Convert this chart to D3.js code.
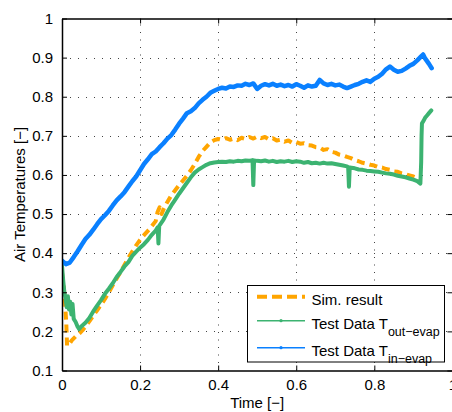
<!DOCTYPE html>
<html>
<head>
<meta charset="utf-8">
<script src="https://cdn.jsdelivr.net/npm/d3@7"></script>
<style>
  html, body { margin: 0; padding: 0; background: #fff; }
  svg { display: block; }
  text { font-family: "Liberation Sans", Arial, Helvetica, sans-serif; fill: #000; }
</style>
</head>
<body>
<svg id="chart" width="452" height="412"></svg>
<script>
// Simulation result (dimensionless time, temperature)
const simT = [0.000,0.004,0.008,0.011,0.013,0.018,0.025,0.035,0.046,0.055,0.060,0.070,0.080,0.090,0.100,0.110,0.120,0.130,0.140,0.150,0.160,0.170,0.180,0.190,0.200,0.210,0.220,0.230,0.240,0.245,0.250,0.255,0.260,0.270,0.280,0.290,0.300,0.310,0.320,0.330,0.340,0.350,0.360,0.370,0.380,0.390,0.400,0.410,0.420,0.430,0.440,0.450,0.460,0.470,0.480,0.490,0.500,0.510,0.520,0.530,0.540,0.550,0.560,0.570,0.580,0.590,0.600,0.610,0.620,0.630,0.640,0.650,0.660,0.670,0.680,0.690,0.700,0.710,0.720,0.730,0.740,0.750,0.760,0.770,0.780,0.790,0.800,0.810,0.820,0.830,0.840,0.850,0.860,0.870,0.880,0.890,0.900,0.910,0.920];
const simV = [0.350,0.320,0.270,0.220,0.163,0.166,0.177,0.187,0.196,0.206,0.212,0.226,0.240,0.254,0.268,0.283,0.300,0.318,0.335,0.352,0.370,0.388,0.404,0.420,0.434,0.446,0.457,0.469,0.482,0.506,0.517,0.500,0.512,0.531,0.548,0.561,0.574,0.586,0.598,0.612,0.628,0.646,0.661,0.672,0.683,0.689,0.692,0.690,0.694,0.690,0.693,0.689,0.695,0.692,0.697,0.693,0.698,0.694,0.697,0.691,0.694,0.688,0.690,0.685,0.688,0.682,0.684,0.680,0.681,0.676,0.675,0.671,0.670,0.664,0.666,0.659,0.657,0.652,0.650,0.646,0.643,0.638,0.635,0.631,0.629,0.626,0.624,0.620,0.619,0.615,0.613,0.609,0.608,0.604,0.602,0.599,0.596,0.592,0.588];

// Measured evaporator outlet air temperature
const outT = [0.000,0.003,0.006,0.009,0.012,0.015,0.018,0.021,0.024,0.027,0.030,0.035,0.040,0.044,0.050,0.060,0.070,0.080,0.090,0.100,0.110,0.120,0.130,0.140,0.150,0.160,0.170,0.180,0.190,0.200,0.210,0.220,0.230,0.240,0.245,0.247,0.249,0.260,0.270,0.280,0.290,0.300,0.310,0.320,0.330,0.340,0.350,0.360,0.370,0.380,0.390,0.400,0.410,0.420,0.430,0.440,0.450,0.460,0.470,0.480,0.488,0.490,0.492,0.500,0.510,0.520,0.530,0.540,0.550,0.560,0.570,0.580,0.590,0.600,0.610,0.620,0.630,0.640,0.650,0.660,0.670,0.680,0.690,0.700,0.710,0.720,0.730,0.733,0.735,0.737,0.750,0.760,0.770,0.780,0.790,0.800,0.810,0.820,0.830,0.840,0.850,0.860,0.870,0.880,0.890,0.900,0.910,0.918,0.920,0.921,0.922,0.926,0.930,0.935,0.940,0.946];
const outV = [0.368,0.331,0.300,0.285,0.262,0.290,0.256,0.276,0.243,0.270,0.232,0.224,0.212,0.206,0.213,0.222,0.234,0.251,0.266,0.280,0.296,0.309,0.323,0.339,0.352,0.366,0.377,0.393,0.404,0.414,0.423,0.434,0.447,0.458,0.466,0.425,0.470,0.486,0.505,0.522,0.537,0.552,0.566,0.580,0.594,0.606,0.614,0.620,0.626,0.630,0.632,0.633,0.634,0.633,0.635,0.634,0.636,0.635,0.637,0.636,0.638,0.574,0.637,0.636,0.635,0.637,0.634,0.636,0.633,0.635,0.634,0.636,0.633,0.635,0.634,0.631,0.633,0.630,0.631,0.629,0.631,0.629,0.630,0.628,0.626,0.624,0.622,0.620,0.570,0.619,0.617,0.614,0.613,0.611,0.610,0.609,0.608,0.606,0.604,0.603,0.601,0.598,0.596,0.594,0.591,0.588,0.584,0.578,0.632,0.700,0.732,0.738,0.746,0.752,0.758,0.765];

// Measured evaporator inlet air temperature
const inT = [0.000,0.010,0.020,0.030,0.040,0.050,0.060,0.070,0.080,0.090,0.100,0.110,0.120,0.130,0.140,0.150,0.160,0.170,0.180,0.190,0.200,0.210,0.220,0.230,0.240,0.250,0.260,0.270,0.280,0.290,0.300,0.310,0.320,0.330,0.340,0.350,0.360,0.370,0.380,0.390,0.400,0.410,0.420,0.430,0.440,0.450,0.460,0.470,0.480,0.490,0.500,0.510,0.520,0.530,0.540,0.550,0.560,0.570,0.580,0.590,0.600,0.610,0.620,0.630,0.640,0.650,0.660,0.670,0.680,0.690,0.700,0.710,0.720,0.730,0.740,0.750,0.760,0.770,0.780,0.790,0.800,0.810,0.820,0.830,0.840,0.850,0.860,0.870,0.880,0.890,0.900,0.910,0.920,0.925,0.930,0.940,0.947];
const inV = [0.381,0.372,0.376,0.390,0.405,0.421,0.436,0.447,0.460,0.474,0.487,0.497,0.508,0.522,0.535,0.545,0.556,0.570,0.584,0.596,0.612,0.628,0.640,0.653,0.660,0.671,0.681,0.693,0.702,0.716,0.731,0.744,0.758,0.763,0.771,0.783,0.792,0.800,0.810,0.815,0.820,0.823,0.821,0.826,0.825,0.829,0.828,0.833,0.830,0.834,0.820,0.828,0.832,0.829,0.833,0.828,0.831,0.827,0.830,0.826,0.832,0.828,0.823,0.829,0.826,0.828,0.843,0.834,0.830,0.833,0.829,0.831,0.826,0.822,0.826,0.830,0.833,0.838,0.842,0.838,0.846,0.851,0.859,0.870,0.877,0.869,0.864,0.866,0.872,0.879,0.884,0.893,0.903,0.908,0.898,0.884,0.873];

const xTicks = [0, 0.2, 0.4, 0.6, 0.8, 1];
const yTicks = [0.1, 0.2, 0.3, 0.4, 0.5, 0.6, 0.7, 0.8, 0.9, 1];
const legendLabels = ["Sim. result", "Test Data T", "Test Data T"];
const legendSubs = ["", "out\u2212evap", "in\u2212evap"];
const colors = { sim: "#FFA500", out: "#3CB371", in: "#0A80FF" };

const svg = d3.select("#chart");
const mLeft = 62, mRight = 452.4, mTop = 18.5, mBottom = 370.5;

const x = d3.scaleLinear().domain([0, 1]).range([mLeft, mRight]);
const y = d3.scaleLinear().domain([0.1, 1]).range([mBottom, mTop]);

// clip region for the data
svg.append("defs").append("clipPath").attr("id", "plotClip")
  .append("rect").attr("x", mLeft).attr("y", mTop)
  .attr("width", mRight - mLeft).attr("height", mBottom - mTop);

// dotted grid
const grid = svg.append("g");
grid.selectAll("line.gx").data(xTicks.filter(d => d > 0 && d < 1)).join("line")
  .attr("x1", d => Math.round(x(d)) + 0.5).attr("x2", d => Math.round(x(d)) + 0.5)
  .attr("y1", mBottom).attr("y2", mTop)
  .attr("stroke", "#444").attr("stroke-width", 1).attr("stroke-dasharray", "1,6.5");
grid.selectAll("line.gy").data(yTicks.filter(d => d > 0.1 && d < 1)).join("line")
  .attr("y1", d => Math.round(y(d)) + 0.5).attr("y2", d => Math.round(y(d)) + 0.5)
  .attr("x1", mLeft).attr("x2", mRight)
  .attr("stroke", "#444").attr("stroke-width", 1).attr("stroke-dasharray", "1,7");

// data series
const line = d3.line().x(d => x(d[0])).y(d => y(d[1]));
const plot = svg.append("g").attr("clip-path", "url(#plotClip)");
const zip = (a, b) => a.map((t, i) => [t, b[i]]);

plot.append("path").datum(zip(simT, simV))
  .attr("d", line).attr("fill", "none").attr("stroke", colors.sim)
  .attr("stroke-width", 4).attr("stroke-dasharray", "8,5").attr("stroke-linejoin", "round");
plot.append("path").datum(zip(outT, outV))
  .attr("d", line).attr("fill", "none").attr("stroke", colors.out)
  .attr("stroke-width", 4).attr("stroke-linejoin", "round").attr("stroke-linecap", "round");
plot.append("path").datum(zip(inT, inV))
  .attr("d", line).attr("fill", "none").attr("stroke", colors.in)
  .attr("stroke-width", 4.5).attr("stroke-linejoin", "round").attr("stroke-linecap", "round");

// axes box with inward ticks on all sides
const axes = svg.append("g");
axes.append("g").attr("transform", `translate(0,${mBottom})`)
  .call(d3.axisBottom(x).tickValues(xTicks).tickSizeInner(-5).tickSizeOuter(0).tickPadding(9)
    .tickFormat(d3.format("")));
axes.append("g").attr("transform", `translate(${mLeft},0)`)
  .call(d3.axisLeft(y).tickValues(yTicks).tickSizeInner(-5).tickSizeOuter(0).tickPadding(9)
    .tickFormat(d3.format("")));
axes.append("g").attr("transform", `translate(0,${mTop})`)
  .call(d3.axisTop(x).tickValues(xTicks).tickSizeInner(-5).tickSizeOuter(0).tickFormat(""));
axes.append("g").attr("transform", `translate(${mRight},0)`)
  .call(d3.axisRight(y).tickValues(yTicks).tickSizeInner(-5).tickSizeOuter(0).tickFormat(""));
axes.selectAll(".domain").attr("stroke", "#000").attr("stroke-width", 1.5);
axes.selectAll(".tick line").attr("stroke", "#000");
axes.selectAll(".tick text").attr("font-size", 15).attr("font-family", "Liberation Sans, Arial, sans-serif").attr("fill", "#000");

// axis titles
svg.append("text").attr("x", (mLeft + mRight) / 2).attr("y", 408)
  .attr("text-anchor", "middle").attr("font-size", 15).text("Time [\u2212]");
svg.append("text").attr("transform", `translate(25,${(mTop + mBottom) / 2}) rotate(-90)`)
  .attr("text-anchor", "middle").attr("font-size", 15).text("Air Temperatures [\u2212]");

// legend
const lg = svg.append("g");
lg.append("rect").attr("x", 247.5).attr("y", 285.5).attr("width", 197).attr("height", 76.5)
  .attr("fill", "#fff").attr("stroke", "#000").attr("stroke-width", 1);
const rows = [
  { y: 296.7, c: colors.sim, dash: "10,5", w: 4, dot: false },
  { y: 320.7, c: colors.out, dash: null, w: 1.5, dot: true },
  { y: 347.7, c: colors.in, dash: null, w: 1.5, dot: true }
];
rows.forEach((r, i) => {
  const l = lg.append("line").attr("x1", 257).attr("x2", 305).attr("y1", r.y).attr("y2", r.y)
    .attr("stroke", r.c).attr("stroke-width", r.w);
  if (r.dash) l.attr("stroke-dasharray", r.dash);
  if (r.dot) lg.append("circle").attr("cx", 281).attr("cy", r.y).attr("r", 1.6).attr("fill", r.c);
  const t = lg.append("text").attr("x", 311.5).attr("y", r.y + 7.8).attr("font-size", 15)
    .text(legendLabels[i]);
  if (legendSubs[i]) {
    t.append("tspan").attr("font-size", 12.5).attr("dy", 7.5).text(legendSubs[i]);
  }
});
</script>
</body>
</html>
